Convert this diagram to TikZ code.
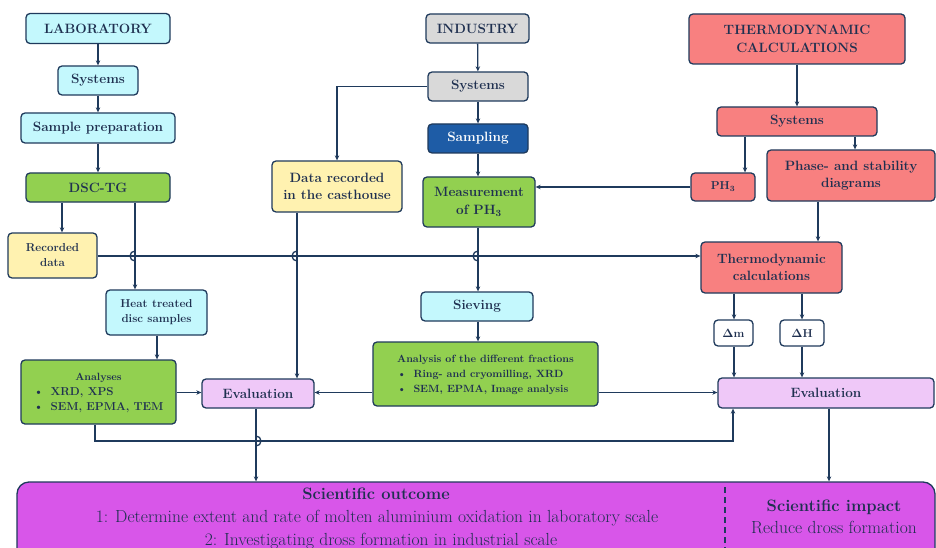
\documentclass[tikz,border=0pt]{standalone}
\usetikzlibrary{arrows.meta}
\definecolor{navy}{HTML}{1F3A5C}
\definecolor{txt}{HTML}{1F3050}
\definecolor{cyanf}{HTML}{C4F8FD}
\definecolor{grayf}{HTML}{D9D9D9}
\definecolor{greenf}{HTML}{92D050}
\definecolor{yellowf}{HTML}{FFF2B0}
\definecolor{salmonf}{HTML}{F88080}
\definecolor{bluef}{HTML}{1E5CA6}
\definecolor{lavf}{HTML}{EFC8F8}
\definecolor{magf}{HTML}{D856E9}
\begin{document}
\begin{tikzpicture}[x=1pt,y=-1pt,
  box/.style={draw=navy,line width=1.3pt,rounded corners=4pt,text=txt,align=center,inner sep=1pt,
    font=\fontsize{13.5}{17.5}\selectfont\bfseries},
  sbox/.style={box,font=\fontsize{11.5}{15}\selectfont\bfseries},
  line/.style={draw=navy,line width=1.3pt},
  arr/.style={line,-{Stealth[length=5pt,width=4.5pt]}},
  sz/.style 2 args={minimum width=#1,minimum height=#2}]
\useasboundingbox (0,0) rectangle (936,548);
\fill[white] (0,0) rectangle (936,548);

% laboratory column
\node[box,fill=cyanf,sz={144}{30}] (lab) at (98,28.5) {LABORATORY};
\node[box,fill=cyanf,sz={80}{29}] (labsys) at (98,80.5) {Systems};
\node[box,fill=cyanf,sz={154}{30}] (prep) at (98,128) {Sample preparation};
\node[box,fill=greenf,sz={144}{29}] (dsc) at (98,187.5) {DSC-TG};
\node[sbox,fill=yellowf,sz={89}{45}] (rec) at (52.5,255.5) {Recorded\\data};
\node[sbox,fill=cyanf,sz={101}{45}] (heat) at (156.5,312.5) {Heat treated\\disc samples};
\node[box,fill=greenf,sz={155}{64},font=\fontsize{11.5}{15}\selectfont\bfseries] (ana) at (98.5,392)
  {\begin{tabular}{@{}l@{}}\multicolumn{1}{c}{\fontsize{10.5}{13.5}\selectfont Analyses}\\
   \textbullet\hspace{7pt}XRD, XPS\\ \textbullet\hspace{7pt}SEM, EPMA, TEM\end{tabular}};
\node[box,fill=lavf,sz={112}{29}] (evall) at (258,393.5) {Evaluation};

% industry column
\node[box,fill=grayf,sz={103}{29}] (ind) at (477.5,28.5) {INDUSTRY};
\node[box,fill=grayf,sz={100}{29}] (indsys) at (478,86.5) {Systems};
\node[box,fill=bluef,text=white,sz={100}{29}] (samp) at (478,138.5) {Sampling};
\node[box,fill=greenf,sz={112}{50}] (meas) at (479,202) {Measurement\\of PH\textsubscript{3}};
\node[box,fill=yellowf,sz={130}{51}] (data) at (337,186.5) {Data recorded\\in the casthouse};
\node[box,fill=cyanf,sz={112}{29}] (siev) at (477,306.5) {Sieving};
\node[box,fill=greenf,sz={225}{64},font=\fontsize{10.5}{15}\selectfont\bfseries] (anf) at (485.5,374)
  {\begin{tabular}{@{}l@{}}\multicolumn{1}{c}{Analysis of the different fractions}\\
   \hspace{6pt}\textbullet\hspace{7pt}Ring- and cryomilling, XRD\\
   \hspace{6pt}\textbullet\hspace{7pt}SEM, EPMA, Image analysis\end{tabular}};

% thermodynamic column
\node[box,fill=salmonf,sz={216}{50}] (thermo) at (797,39) {THERMODYNAMIC\\CALCULATIONS};
\node[box,fill=salmonf,sz={160}{29}] (tsys) at (797,121.5) {Systems};
\node[sbox,fill=salmonf,sz={64}{28}] (ph3) at (723,187) {PH\textsubscript{3}};
\node[box,fill=salmonf,sz={168}{51}] (phase) at (851,175.5) {Phase- and stability\\diagrams};
\node[box,fill=salmonf,sz={141}{51}] (tcalc) at (771.5,267.5) {Thermodynamic\\calculations};
\node[sbox,fill=white,sz={39}{26}] (dm) at (733.5,333) {$\mathbf{\Delta}$m};
\node[sbox,fill=white,sz={44}{26}] (dh) at (802,333) {$\mathbf{\Delta}$H};
\node[box,fill=lavf,sz={216}{30}] (evalr) at (826,393) {Evaluation};

% bottom box
\node[draw=navy,line width=1.3pt,rounded corners=12pt,fill=magf,sz={918}{90}] (out) at (476,527) {};
\draw[navy,line width=1.3pt,dash pattern=on 6pt off 4pt] (725,487) -- (725,548);
\node[anchor=base,text=txt,font=\fontsize{16.5}{20}\selectfont\bfseries] (so) at (376,499) {Scientific outcome};
\node[anchor=base,text=txt,font=\fontsize{17.5}{21}\selectfont] (s1) at (377,522) {1: Determine extent and rate of molten aluminium oxidation in laboratory scale};
\node[anchor=base,text=txt,font=\fontsize{17.5}{21}\selectfont] (s2) at (381,545) {2: Investigating dross formation in industrial scale};
\node[anchor=base,text=txt,font=\fontsize{16.5}{20}\selectfont\bfseries] (si) at (834,511) {Scientific impact};
\node[anchor=base,text=txt,font=\fontsize{17.5}{21}\selectfont] (s3) at (834,533) {Reduce dross formation};

% connectors - laboratory
\draw[arr] (lab) -- (labsys);
\draw[arr] (labsys) -- (prep);
\draw[arr] (prep) -- (dsc);
\draw[arr] (dsc.south -| 62,0) -- (rec.north -| 62,0);
\draw[arr] (dsc.south -| 135,0) -- (heat.north -| 135,0);
\draw[arr] (heat.south -| 157,0) -- (ana.north -| 157,0);
\draw[arr] (ana.east |- 0,392.5) -- (evall.west |- 0,392.5);
\draw[arr] (anf.west |- 0,392.5) -- (evall.east |- 0,392.5);
\draw[arr] (evall.south -| 256,0) -- (out.north -| 256,0);

% connectors - industry
\draw[arr] (ind) -- (indsys);
\draw[arr] (indsys.west) -| (data.north);
\draw[arr] (data.south -| 297,0) -- (evall.north -| 297,0);
\draw[arr] (indsys) -- (samp);
\draw[arr] (samp) -- (meas.north -| samp);
\draw[arr] (meas.south -| 478,0) -- (siev.north -| 478,0);
\draw[arr] (siev.south -| 478,0) -- (anf.north -| 478,0);
\draw[arr] (anf.east |- 0,392.5) -- (evalr.west |- 0,392.5);

% connectors - thermodynamic
\draw[arr] (thermo) -- (tsys);
\draw[arr] (tsys.south -| 745,0) -- (ph3.north -| 745,0);
\draw[arr] (tsys.south -| 855,0) -- (phase.north -| 855,0);
\draw[arr] (phase.south -| 818,0) -- (tcalc.north -| 818,0);
\draw[arr] (ph3.west) -- (meas.east |- ph3.west);
\draw[arr] (tcalc.south -| 734,0) -- (dm.north -| 734,0);
\draw[arr] (dm.south -| 734,0) -- (evalr.north -| 734,0);
\draw[arr] (tcalc.south -| 802,0) -- (dh.north -| 802,0);
\draw[arr] (dh.south -| 802,0) -- (evalr.north -| 802,0);
\draw[arr] (evalr.south -| 829,0) -- (out.north -| 829,0);

% long connectors with hops
\draw[arr] (rec.east |- 0,256) -- (tcalc.west |- 0,256);
\draw[line] (135,251) arc[start angle=270,end angle=90,radius=5];
\draw[line] (297,251) arc[start angle=270,end angle=90,radius=5];
\draw[line] (478,251) arc[start angle=270,end angle=90,radius=5];
\coordinate (c1) at (95,441);
\coordinate (c2) at (733,441);
\draw[arr] (ana.south -| c1) -- (c1) -- (c2) -- (evalr.south -| c2);
\draw[line] (256,436) arc[start angle=270,end angle=450,radius=5];
\end{tikzpicture}
\end{document}
